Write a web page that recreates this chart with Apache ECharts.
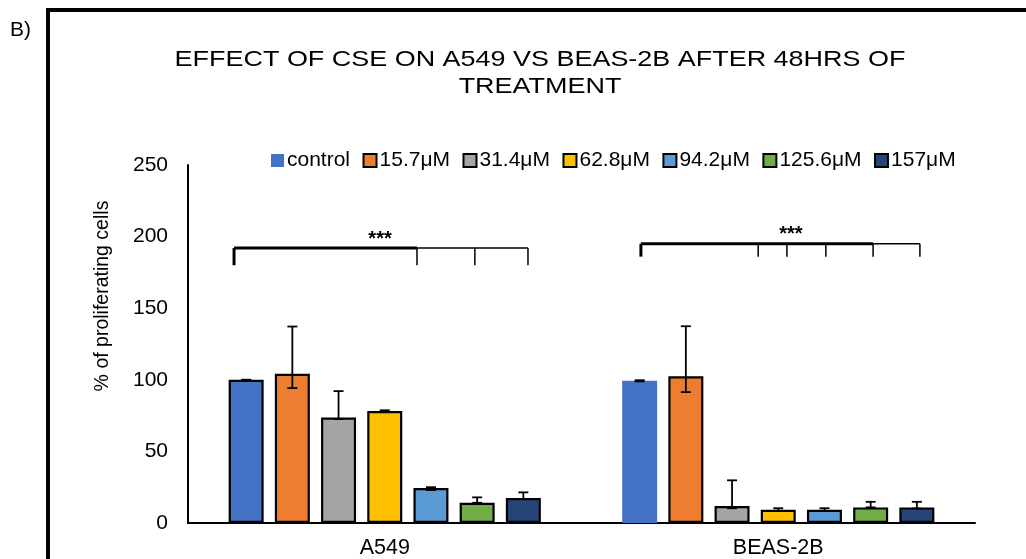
<!DOCTYPE html>
<html>
<head>
<meta charset="utf-8">
<script src="https://cdn.jsdelivr.net/npm/echarts@6/dist/echarts.min.js"></script>
<style>
html,body{margin:0;padding:0;background:#fff;}
#chart{width:1026px;height:559px;}
</style>
</head>
<body>
<div id="chart"></div>
<script>
// ---- data ----
const categories = ['A549', 'BEAS-2B'];
const seriesNames = ['control', '15.7μM', '31.4μM', '62.8μM', '94.2μM', '125.6μM', '157μM'];
const seriesColors = ['#4472C4', '#ED7D31', '#A5A5A5', '#FFC000', '#5B9BD5', '#70AD47', '#264478'];
// values per series: [A549, BEAS-2B]
const values = [
  [100, 99.3],
  [104.2, 102.4],
  [73.6, 11.8],
  [78.2, 9.3],
  [24.4, 9.3],
  [14.1, 10.9],
  [17.4, 10.9]
];
// error bars (upper, lower) per series: [A549, BEAS-2B]
const errUpper = [
  [0, 0.4],
  [33, 35],
  [18.5, 18],
  [0.5, 1],
  [0.6, 1],
  [3.8, 3.9],
  [4, 3.9]
];
const errLower = [
  [0, 0.4],
  [10, 11],
  [1, 1.5],
  [0.5, 1],
  [1.4, 1],
  [0, 0],
  [0.7, 0.8]
];
const yTicks = [0, 50, 100, 150, 200, 250];
const titleLines = ['EFFECT OF CSE ON A549 VS BEAS-2B AFTER 48HRS OF', 'TREATMENT'];
const yAxisTitle = '% of proliferating cells';
const panelLabel = 'B)';
// significance brackets (x in category units: 0..2)
const bracketA = { x: [0.117, 0.582, 0.729, 0.864], thickEnd: 0.582, y: 192, tickY: 180, labelX: 0.488, labelY: 199.5 };
const bracketB = { x: [1.151, 1.449, 1.522, 1.621, 1.741, 1.860], thickEnd: 1.741, y: 195, tickY: 186, labelX: 1.532, labelY: 203 };
const sigText = '***';

// ---- chart ----
const chart = echarts.init(document.getElementById('chart'));
const BAR_W = 35, BAR_GAP = 0.32;
const STEP = BAR_W * (1 + BAR_GAP);
const FONT = 'Liberation Sans, Arial, sans-serif';

const barSeries = seriesNames.map((name, i) => ({
  name: name,
  type: 'bar',
  barWidth: BAR_W,
  barGap: (BAR_GAP * 100) + '%',
  itemStyle: i === 0
    ? { color: seriesColors[i], borderWidth: 0 }
    : { color: seriesColors[i], borderColor: '#000', borderWidth: 2.2 },
  data: values[i].map((v, c) => (i === 0 && c === 0)
    ? { value: v, itemStyle: { borderColor: '#000', borderWidth: 2.2 } }
    : v),
  z: 2
}));

const errData = [];
values.forEach((arr, s) => arr.forEach((v, c) => {
  errData.push([c, s, v, errUpper[s][c], errLower[s][c]]);
}));

const errSeries = {
  type: 'custom',
  name: 'err',
  z: 5,
  silent: true,
  encode: { x: 0, y: 2 },
  data: errData,
  renderItem: function (params, api) {
    const c = api.value(0), s = api.value(1), v = api.value(2);
    const up = api.value(3), lo = api.value(4);
    const off = (s - (seriesNames.length - 1) / 2) * STEP;
    const top = api.coord([c, v + up]);
    const bot = api.coord([c, v - lo]);
    const x = top[0] + off;
    const hw = 5;
    const st = { stroke: '#000', lineWidth: 1.8 };
    return {
      type: 'group',
      children: [
        { type: 'line', shape: { x1: x, y1: top[1], x2: x, y2: bot[1] }, style: st },
        { type: 'line', shape: { x1: x - hw, y1: top[1], x2: x + hw, y2: top[1] }, style: st },
        { type: 'line', shape: { x1: x - hw, y1: bot[1], x2: x + hw, y2: bot[1] }, style: st }
      ]
    };
  }
};

function bracketSeries(b) {
  return {
    type: 'custom',
    xAxisIndex: 1,
    silent: true,
    z: 6,
    data: [[b.x[0], b.y]],
    renderItem: function (params, api) {
      const L = api.coord([b.x[0], b.y]);
      const R = api.coord([b.x[b.x.length - 1], b.y]);
      const T = api.coord([b.thickEnd, b.y]);
      const tickBottom = api.coord([0, b.tickY])[1];
      const children = [
        { type: 'line', shape: { x1: L[0], y1: L[1], x2: T[0], y2: T[1] }, style: { stroke: '#000', lineWidth: 3 } },
        { type: 'line', shape: { x1: T[0], y1: T[1], x2: R[0], y2: R[1] }, style: { stroke: '#000', lineWidth: 1.5 } }
      ];
      b.x.forEach((xv, k) => {
        const p = api.coord([xv, b.y]);
        children.push({ type: 'line', shape: { x1: p[0], y1: p[1], x2: p[0], y2: tickBottom },
          style: { stroke: '#000', lineWidth: k === 0 ? 3 : 1.5 } });
      });
      const lp = api.coord([b.labelX, b.labelY]);
      children.push({ type: 'text', x: lp[0], y: lp[1] + 2,
        style: { text: sigText, fill: '#000', font: 'bold 20px ' + FONT, align: 'center', verticalAlign: 'middle' } });
      return { type: 'group', children: children };
    }
  };
}

chart.setOption({
  animation: false,
  backgroundColor: '#fff',
  textStyle: { fontFamily: FONT },
  legend: {
    data: seriesNames,
    left: 266, top: 145,
    itemWidth: 13, itemHeight: 13, itemGap: 12.5,
    icon: 'rect',
    textStyle: { fontSize: 21, color: '#000', fontFamily: FONT, padding: [0, 0, 0, -2] }
  },
  grid: { left: 188, right: 51, top: 165, bottom: 35, containLabel: false },
  xAxis: [
    {
      type: 'category', data: categories,
      axisLine: { lineStyle: { color: '#000', width: 2 } },
      axisTick: { show: false },
      axisLabel: { fontSize: 21.5, color: '#000', margin: 14, fontFamily: FONT }
    },
    { type: 'value', min: 0, max: 2, show: false }
  ],
  yAxis: {
    type: 'value', min: yTicks[0], max: yTicks[yTicks.length - 1], interval: 50,
    axisLine: { show: true, lineStyle: { color: '#000', width: 2 } },
    axisTick: { show: false },
    splitLine: { show: false },
    axisLabel: { fontSize: 21, color: '#000', margin: 20, fontFamily: FONT }
  },
  graphic: [
    { type: 'text', x: 540, y: 60, scaleX: 1.225,
      style: { text: titleLines[0], fill: '#000', font: '22px ' + FONT, align: 'center', verticalAlign: 'middle' } },
    { type: 'text', x: 540, y: 87, scaleX: 1.225,
      style: { text: titleLines[1], fill: '#000', font: '22px ' + FONT, align: 'center', verticalAlign: 'middle' } },
    { type: 'text', x: 103, y: 296, rotation: Math.PI / 2,
      style: { text: yAxisTitle, fill: '#000', font: '19.5px ' + FONT, align: 'center', verticalAlign: 'middle' } },
    { type: 'text', x: 10, y: 30,
      style: { text: panelLabel, fill: '#000', font: '21px ' + FONT, align: 'left', verticalAlign: 'middle' } },
    { type: 'line', shape: { x1: 48, y1: 10, x2: 48, y2: 559 }, style: { stroke: '#000', lineWidth: 4 } },
    { type: 'line', shape: { x1: 46, y1: 10, x2: 1026, y2: 10 }, style: { stroke: '#000', lineWidth: 4 } }
  ],
  series: barSeries.concat([errSeries, bracketSeries(bracketA), bracketSeries(bracketB)])
});
</script>
</body>
</html>
